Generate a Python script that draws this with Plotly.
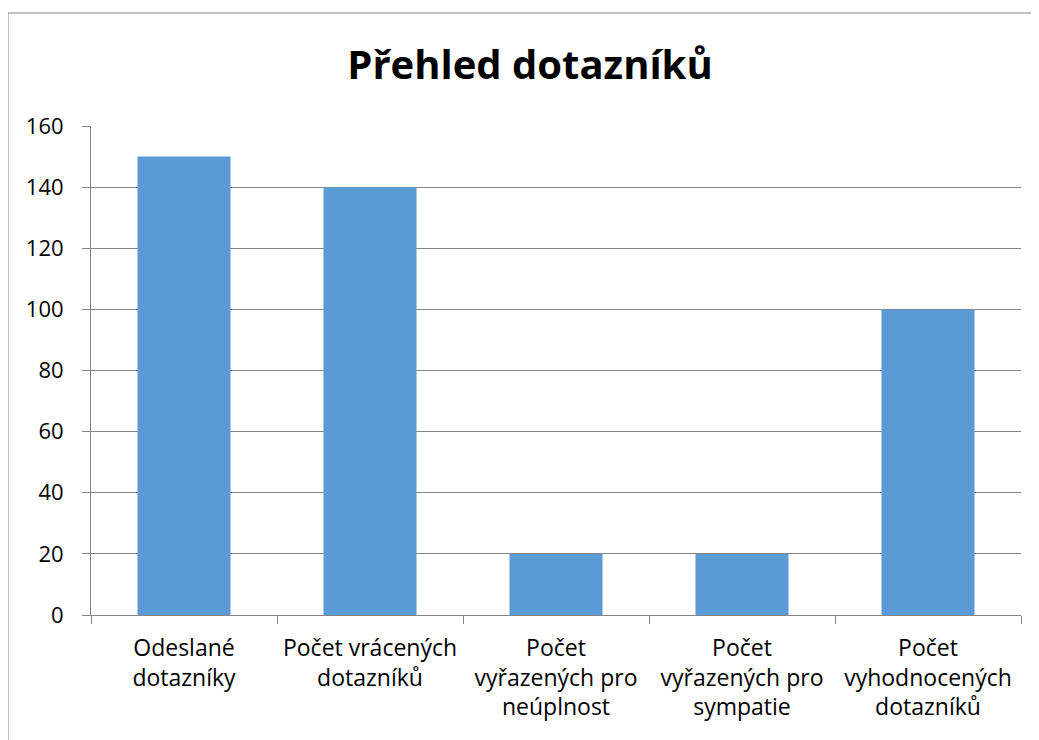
import plotly.graph_objects as go

categories = [
    "Odeslané<br>dotazníky",
    "Počet vrácených<br>dotazníků",
    "Počet<br>vyřazených pro<br>neúplnost",
    "Počet<br>vyřazených pro<br>sympatie",
    "Počet<br>vyhodnocených<br>dotazníků",
]
values = [150, 140, 20, 20, 100]
y_ticks = [0, 20, 40, 60, 80, 100, 120, 140, 160]

FONT = "Open Sans, Liberation Sans, sans-serif"

fig = go.Figure(go.Bar(x=categories, y=values, marker=dict(color="#5B9BD5", line=dict(width=0))))

OFF = 8  # page body margin offset
FW, FH = 1039 - OFF, 740 - OFF
L, R, T, B = 91 - OFF, 1021 - OFF, 126 - OFF, 615 - OFF
W, H = R - L, B - T

def px(x):
    return (x - OFF - L) / W

def py(y):
    return (B - (y - OFF)) / H

fig.update_layout(
    width=FW, height=FH,
    margin=dict(l=L, r=FW - R, t=T, b=FH - B),
    paper_bgcolor="white", plot_bgcolor="white",
    bargap=0.5,
    showlegend=False,
    title=dict(text="<b>Přehled dotazníků</b>", x=(530 - OFF) / FW, xanchor="center",
               y=1 - (65 - OFF) / FH, yanchor="middle",
               font=dict(family=FONT, size=40, color="#000000")),
    font=dict(family=FONT, size=23, color="#000000"),
    xaxis=dict(
        showline=True, linecolor="#868686", linewidth=1,
        ticks="outside", tickson="boundaries", ticklen=8, tickcolor="#868686",
        showgrid=False, tickfont=dict(size=23, color="#000000"),
        ticklabelstandoff=12,
    ),
    yaxis=dict(
        range=[0, 160], tickvals=y_ticks,
        showline=True, linecolor="#868686", linewidth=1,
        ticks="outside", ticklen=8, tickcolor="#868686",
        showgrid=True, gridcolor="#868686", gridwidth=1,
        zeroline=False, tickfont=dict(size=22, color="#000000"),
        ticklabelstandoff=14,
    ),
    shapes=[
        dict(type="line", xref="paper", yref="paper", x0=px(8), x1=px(1039), y0=py(13), y1=py(13),
             line=dict(color="#868686", width=1)),
        dict(type="line", xref="paper", yref="paper", x0=px(8), x1=px(8), y0=py(13), y1=py(740),
             line=dict(color="#868686", width=1)),
    ],
)

fig.write_html("out.html")
